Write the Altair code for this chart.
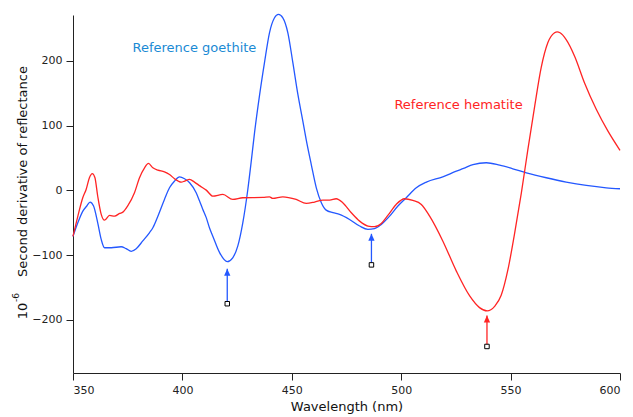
import altair as alt
import pandas as pd

# ---- data ----
hem_wl = [350, 352.2, 354.5, 356, 357.5, 358.8, 360, 361.3, 362.9, 364.4, 366.7, 369, 371.3, 372.8,
          375, 378.1, 380.4, 382.7, 384.5, 386.5, 388.8, 391.8, 394.1, 396.4, 399.5, 401, 403.3,
          405.5, 408, 410.9, 413.9, 418.5, 423, 427.6, 436.8, 439.8, 441.3, 445.9, 452, 456.6,
          460.4, 464.2, 467.3, 470.3, 473.3, 477.2, 481, 484.8, 487.8, 490.9, 493.9, 497.7, 501.5,
          505.3, 509.2, 513, 519, 525.2, 531.3, 535.8, 539.3, 542.7, 545.7, 548.8, 551.8, 554.9,
          557.9, 561, 564, 567, 570.1, 571.3, 572.6, 575.4, 579.3, 583.8, 589.2, 594.5, 600]
hem_val = [-71, -40, -11, 1.5, 19.6, 26, 20, -9, -37, -46, -38.6, -39.7, -35.5, -33.5,
           -24, -3.6, 19.6, 35, 41.7, 35, 31.4, 28.8, 24.7, 18, 12.9, 14.4, 17,
           12.9, 7, 0.5, -8.8, -6.2, -13.9, -11.3, -10.8, -9.8, -12.4, -9.8, -13.9, -20,
           -18, -15, -15, -12.8, -19, -34.4, -47.4, -55, -56, -51, -38.6, -21.6, -12.8,
           -15.4, -21.6, -39.7, -78, -124.6, -163, -181, -186, -179, -162, -122, -67, -4,
           63.3, 130, 190, 228, 243.5, 245, 243.5, 233, 207, 166, 125, 91.6, 62]

goe_wl = [350, 352.2, 354.5, 356.3, 357.8, 359.4, 361.3, 362.9, 364.4, 367.5, 372, 374.3, 376.6,
          378.9, 381.9, 385, 386.5, 388.8, 391.8, 394.1, 396.4, 398.7, 401, 403.3, 406.3, 407.8,
          409.3, 410.9, 412.4, 413.9, 417, 420.5, 423, 425.3, 427.6, 429.9, 431.5, 433, 435.3,
          437.5, 439.8, 442.1, 443.9, 445.9, 448.2, 450.5, 452.8, 455, 456.6, 458.9, 461.2,
          463.5, 465.7, 468.8, 471.8, 476.4, 481, 484.8, 487.8, 490.9, 494.7, 498.5, 502.3,
          506.9, 511.5, 519, 525.2, 528.5, 532.8, 538.9, 545, 551, 557.2, 566.3, 575.4, 584.6,
          593.7, 600]
goe_val = [-71, -50, -32, -24, -18, -24, -50, -75.7, -88.5, -88.5, -87, -90, -94,
           -90, -78, -65, -57.6, -39.7, -13.9, 4.1, 14.4, 21, 18, 11.9, -3.6, -16,
           -29, -42, -58, -70.6, -96, -110, -104, -86, -50, 1.5, 46, 90, 148,
           197, 243.5, 266.7, 272, 266.7, 243.5, 197, 148, 108, 78, 40, 4,
           -19, -30.4, -34.4, -37, -44.8, -55, -60, -59, -52.5, -39.7, -24, -11.3,
           4.1, 12.9, 21, 29.8, 34, 40, 42.8, 39, 33.5, 27.3, 19.6, 12.9, 7.7,
           4.1, 2.6]

arrow_wl = [420.5, 486.4, 539.2]
arrow_tip = [-121, -67, -193]
arrow_tail = [-175, -115, -241]
arrow_series = ["goethite", "goethite", "hematite"]

label_text = ["Reference goethite", "Reference hematite"]
label_wl = [405.5, 526.2]
label_val = [220, 132]

x_ticks = [350, 400, 450, 500, 550, 600]
y_ticks = [-200, -100, 0, 100, 200]

BLUE = "#2458ff"
RED = "#ff2424"
GOE_TEXT = "#1a8ad4"
label_color = [GOE_TEXT, RED]

curves = pd.concat([
    pd.DataFrame({"wl": goe_wl, "val": goe_val, "series": "goethite"}),
    pd.DataFrame({"wl": hem_wl, "val": hem_val, "series": "hematite"}),
])
arrows = pd.DataFrame({"wl": arrow_wl, "tip": arrow_tip, "tail": arrow_tail, "series": arrow_series})
labels = pd.DataFrame({"text": label_text, "wl": label_wl, "val": label_val, "tcolor": label_color})
one = pd.DataFrame({"k": [0]})

xs = alt.Scale(domain=[350, 600], nice=False, zero=False)
ys = alt.Scale(domain=[-282, 271], nice=False, zero=False)
color_lines = alt.Scale(domain=["goethite", "hematite"], range=[BLUE, RED])

x_enc = alt.X("wl:Q", scale=xs, axis=alt.Axis(values=x_ticks, title="Wavelength (nm)",
                                               grid=False, labelFontSize=11, titleFontSize=13,
                                               tickSize=7, labelPadding=4, titlePadding=5,
                                               domainColor="#222", tickColor="#222",
                                               labelColor="#222", titleColor="#111",
                                               labelFont="DejaVu Sans", titleFont="DejaVu Sans",
                                               titleFontWeight="normal"))
y_enc = alt.Y("val:Q", scale=ys, axis=alt.Axis(values=y_ticks, title="Second derivative of reflectance",
                                                grid=False, labelFontSize=11, titleFontSize=13,
                                                tickSize=7, labelPadding=4,
                                                titleX=-51, titleY=156, titleAngle=270,
                                                titleAlign="center", titleBaseline="middle",
                                                domainColor="#222", tickColor="#222",
                                                labelColor="#222", titleColor="#111",
                                                labelFont="DejaVu Sans", titleFont="DejaVu Sans",
                                                titleFontWeight="normal"))

lines = alt.Chart(curves).mark_line(strokeWidth=1.3, interpolate="monotone").encode(
    x=x_enc, y=y_enc,
    color=alt.Color("series:N", scale=color_lines, legend=None),
    detail="series:N",
)

shafts = alt.Chart(arrows).mark_rule(strokeWidth=1.3).encode(
    x="wl:Q", y=alt.Y("tail:Q", scale=ys), y2="tip:Q",
    color=alt.Color("series:N", scale=color_lines, legend=None),
)
heads = alt.Chart(arrows).mark_point(shape="M0,0L-0.45,1L0.45,1Z", size=196, filled=True, opacity=1).encode(
    x="wl:Q", y=alt.Y("tip:Q", scale=ys),
    color=alt.Color("series:N", scale=color_lines, legend=None),
)
squares = alt.Chart(arrows).mark_square(size=20, filled=False, fill="white", stroke="black",
                                        strokeWidth=1, opacity=1).encode(
    x="wl:Q", y=alt.Y("tail:Q", scale=ys),
)

texts = alt.Chart(labels).mark_text(fontSize=13, font="DejaVu Sans", align="center",
                                    baseline="middle").encode(
    x="wl:Q", y=alt.Y("val:Q", scale=ys), text="text:N",
    color=alt.Color("tcolor:N", scale=None),
)

ten = alt.Chart(one).mark_text(fontSize=13, font="DejaVu Sans", angle=270, align="center",
                               baseline="middle", color="#111").encode(
    x=alt.value(-50.5), y=alt.value(296), text=alt.value("10"))
exp = alt.Chart(one).mark_text(fontSize=9, font="DejaVu Sans", angle=270, align="center",
                               baseline="middle", color="#111").encode(
    x=alt.value(-57), y=alt.value(282.5), text=alt.value("-6"))

chart = alt.layer(lines, shafts, heads, squares, texts, ten, exp).properties(
    width=547, height=358,
    autosize=alt.AutoSizeParams(type="none"),
    padding={"left": 65, "top": 7, "right": 3, "bottom": 44},
).configure_view(strokeWidth=0)

chart.save("out.html", embed_options={"renderer": "svg", "actions": False})
